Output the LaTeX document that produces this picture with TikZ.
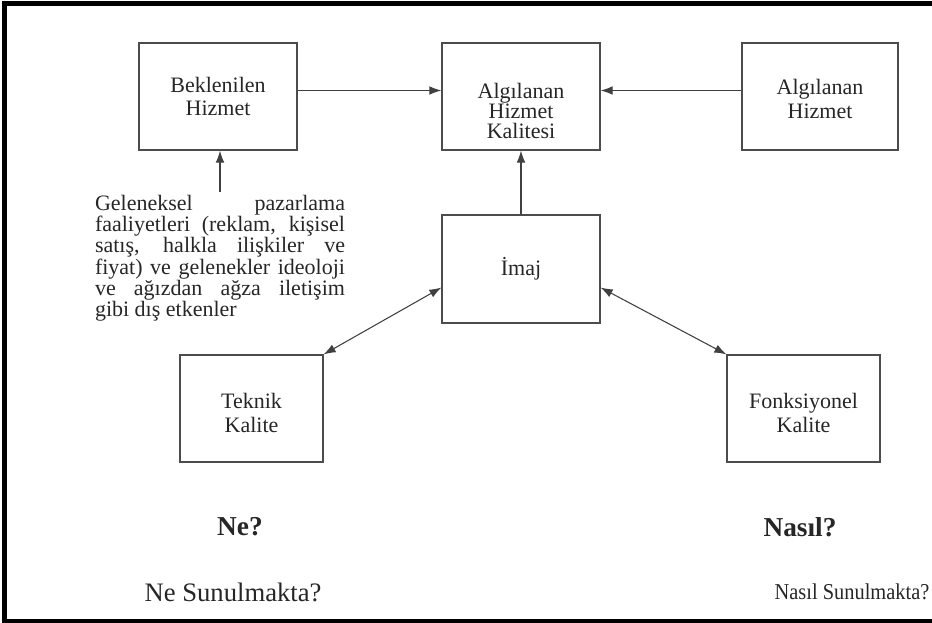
\documentclass[tikz,border=0pt]{standalone}
\usepackage{fontspec}
\setmainfont{Liberation Serif}
\usetikzlibrary{calc,arrows.meta}

\tikzset{
	kutu/.style={draw=black!70, line width=0.9pt, align=center, inner sep=0pt, text=black!85, font=\fontsize{16.5}{17.5}\selectfont},
	ok/.style={draw=black!75, line width=0.8pt, -{Latex[length=9pt,width=6.5pt]}},
	ciftok/.style={draw=black!75, line width=0.8pt, {Latex[length=9pt,width=6.5pt]}-{Latex[length=9pt,width=6.5pt]}},
	yazi/.style={text=black!85, inner sep=0pt}
}

\begin{document}
\begin{tikzpicture}[x=0.75pt, y=-0.75pt]
		%%%%% START %%%%%
		\useasboundingbox (0, 0) rectangle (932, 623);
		
		\draw[line width=3.75pt] (932, 4) -- (4, 4) -- (4, 621) -- (932, 621);
		
		\node[kutu, minimum width=118.5pt, minimum height=80.25pt] (bekle) at (218, 96.5) {Beklenilen\\Hizmet};
		\node[kutu, minimum width=118.5pt, minimum height=80.25pt, font=\fontsize{16.5}{15}\selectfont] (kalite) at (521, 96.5) {\rule{0pt}{33pt}Algılanan\\Hizmet\\Kalitesi};
		\node[kutu, minimum width=117pt, minimum height=80.25pt] (algi) at (820, 96.5) {\rule{0pt}{15pt}Algılanan\\Hizmet};
		
		\node[kutu, minimum width=118.5pt, minimum height=81pt] (imaj) at (521, 269) {İmaj};
		
		\node[kutu, minimum width=107.25pt, minimum height=80.25pt] (teknik) at (251.5, 408.5) {\rule{0pt}{18pt}Teknik\\Kalite};
		\node[kutu, minimum width=114.75pt, minimum height=80.25pt] (fonks) at (803.5, 408.5) {\rule{0pt}{18pt}Fonksiyonel\\Kalite};
		
		\node[yazi, anchor=north, inner sep=2pt, text width=187.5pt, align=justify] (metin) at (220, 192) {\fontsize{16.5}{16}\selectfont Geleneksel pazarlama\linebreak faaliyetleri (reklam, kişisel\linebreak satış, halkla ilişkiler ve\linebreak fiyat) ve gelenekler ideoloji\linebreak ve ağızdan ağza iletişim\linebreak gibi dış etkenler\par};
		
		\draw[ok] ([yshift=4.5pt]bekle.east) -- ([yshift=4.5pt]kalite.west);
		\draw[ok] ([yshift=4.5pt]algi.west) -- ([yshift=4.5pt]kalite.east);
		\draw[ok] (imaj.north) -- (kalite.south);
		\draw[ok] (metin.north) -- (metin.north |- bekle.south);
		
		\draw[ciftok] (teknik.north east) -- ($(imaj.south west)!0.33!(imaj.north west)$);
		\draw[ciftok] ($(imaj.south east)!0.33!(imaj.north east)$) -- (fonks.north west);
		
		\node[yazi, font=\fontsize{20.5}{24}\selectfont\bfseries] (ne) at (240, 527) {Ne?};
		\node[yazi, font=\fontsize{20.5}{24}\selectfont\bfseries] (nasil) at (800, 527) {Nasıl?};
		
		\node[yazi, font=\fontsize{20}{24}\selectfont] (nesun) at (233, 592) {Ne Sunulmakta?};
		\node[yazi, font=\fontsize{17}{20}\selectfont] (nasilsun) at (852, 592) {\scalebox{0.9}[1]{Nasıl Sunulmakta?}};
		
		%%%%% END %%%%%
	\end{tikzpicture}
\end{document}
